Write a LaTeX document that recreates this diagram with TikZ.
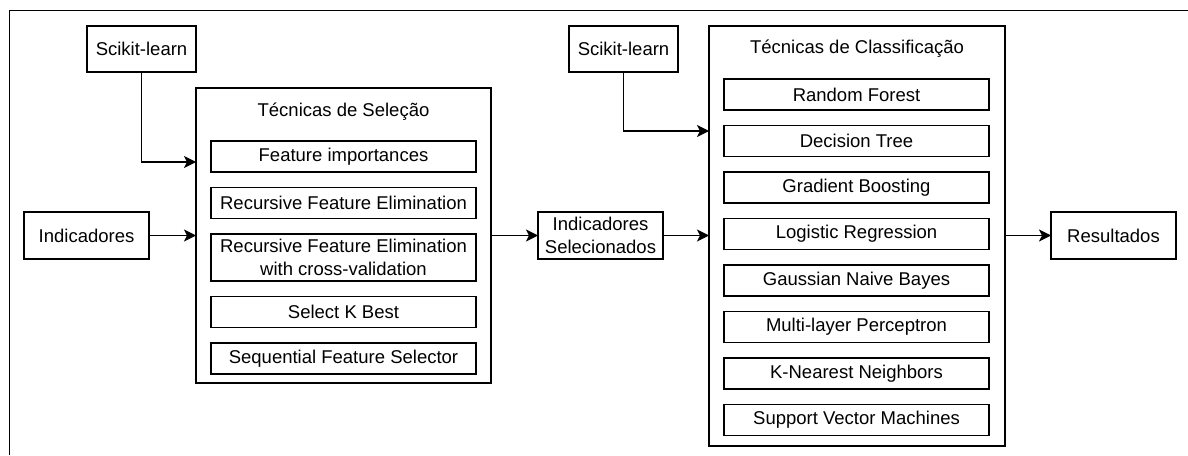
\documentclass[tikz,border=0pt]{standalone}
\usepackage{fontspec}
\setmainfont{Liberation Sans}
\usetikzlibrary{arrows.meta,positioning}

\tikzset{
  blk/.style={draw, line width=1.4pt, inner sep=0pt, outer sep=0pt, align=center,
    minimum width=125pt, minimum height=47pt, font=\fontsize{18.5}{22.7}\selectfont},
  panel/.style={blk, minimum width=295pt},
  tech/.style={blk, minimum width=265pt, minimum height=31pt},
  title/.style={font=\fontsize{18.5}{22.7}\selectfont, inner sep=0pt},
  elbow/.style={to path={|- (\tikztotarget)}}
}

\begin{document}
\begin{tikzpicture}[x=1pt, y=1pt, ->, >={Stealth[length=12pt,width=12pt,inset=3pt]}, line width=1.4pt]
  \useasboundingbox (0,0) rectangle (1188,-455);
  \draw[-, line width=1pt] (9,-455) |- (1188,-10.7);

  % selection part
  \node [blk, minimum width=109pt, minimum height=46pt] (sklA) at (141.5,-49) {Scikit-learn};
  \node [blk] (indic) at (86.5,-235.5) {Indicadores};
  \node [panel, minimum height=295pt] (selbox) at (343.5,-235.5) {};
  \node [title] at ([yshift=-24pt]selbox.north) {Técnicas de Seleção};
  \node [tech] (fimp) at (343.5,-156.5) {Feature importances};
  \node [tech] (rfe) [below=15.5pt of fimp] {Recursive Feature Elimination};
  \node [tech, minimum height=47pt] (rfecv) [below=15.5pt of rfe] {Recursive Feature Elimination\\with cross-validation};
  \node [tech] (kbest) [below=15.5pt of rfecv] {Select K Best};
  \node [tech] (sfs) [below=15.5pt of kbest] {Sequential Feature Selector};

  % classification part
  \node [blk] (indsel) at (600.5,-235.5) {Indicadores\\Selecionados};
  \node [blk, minimum width=109pt, minimum height=46pt] (sklB) at (623.5,-49) {Scikit-learn};
  \node [panel, minimum width=296pt, minimum height=420pt] (clsbox) at (857,-236) {};
  \node [title] at ([yshift=-23pt]clsbox.north) {Técnicas de Classificação};
  \node [tech] (rf) at (856.5,-94.5) {Random Forest};
  \node [tech] (dt) [below=15.5pt of rf] {Decision Tree};
  \node [tech] (gb) [below=15.5pt of dt] {Gradient Boosting};
  \node [tech] (lr) [below=15.5pt of gb] {Logistic Regression};
  \node [tech] (gnb) [below=15.5pt of lr] {Gaussian Naive Bayes};
  \node [tech] (mlp) [below=15.5pt of gnb] {Multi-layer Perceptron};
  \node [tech] (knn) [below=15.5pt of mlp] {K-Nearest Neighbors};
  \node [tech] (svm) [below=15.5pt of knn] {Support Vector Machines};
  \node [blk] (result) at (1113.5,-235.5) {Resultados};

  \path
  (sklA.south) edge [elbow] ([yshift=73.5pt]selbox.west)
  (indic) edge (selbox.west |- indic)
  (selbox.east |- indsel) edge (indsel)
  (sklB.south) edge [elbow] ([yshift=105pt]clsbox.west)
  (indsel) edge (clsbox.west |- indsel)
  (clsbox.east |- result) edge (result)
  ;
\end{tikzpicture}
\end{document}
